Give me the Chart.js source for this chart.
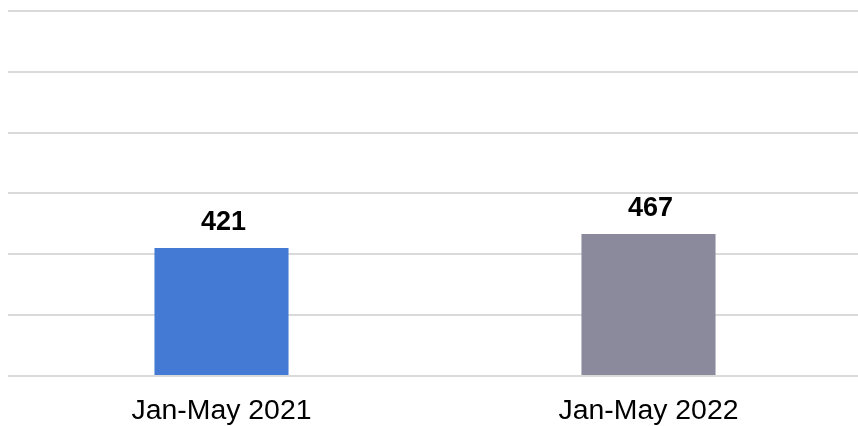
<!DOCTYPE html>
<html>
<head>
<meta charset="utf-8">
<script src="https://cdn.jsdelivr.net/npm/chart.js@4"></script>
<style>
  html, body { margin: 0; padding: 0; background: #fff; overflow: hidden; }
  #wrap { width: 862px; height: 426px; }
</style>
</head>
<body>
<div id="wrap"><canvas id="chart"></canvas></div>
<script>
const periods = ['Jan-May 2021', 'Jan-May 2022'];
const totals = [421, 467];
const barColors = ['#4479d4', '#8b8a9c'];
const yMax = 1200;
const yStep = 200;

// value labels above each bar
const valueLabels = {
    id: 'valueLabels',
    afterDatasetsDraw(chart) {
        const ctx = chart.ctx;
        const meta = chart.getDatasetMeta(0);
        ctx.save();
        ctx.font = 'bold 27px "Liberation Sans", Arial, sans-serif';
        ctx.fillStyle = '#000';
        ctx.textAlign = 'center';
        ctx.textBaseline = 'alphabetic';
        meta.data.forEach((bar, i) => {
            ctx.fillText(String(totals[i]), bar.x + 2, bar.y - 18);
        });
        ctx.restore();
    }
};

new Chart(document.getElementById('chart'), {
    type: 'bar',
    data: {
        labels: periods,
        datasets: [{
            data: totals,
            backgroundColor: barColors,
            borderWidth: 0,
            categoryPercentage: 1,
            barPercentage: 0.314
        }]
    },
    options: {
        responsive: true,
        maintainAspectRatio: false,
        animation: false,
        layout: { padding: { left: 8, right: 0, top: 11, bottom: -12 } },
        plugins: {
            legend: { display: false },
            tooltip: { enabled: false }
        },
        scales: {
            x: {
                grid: { display: false },
                border: { display: false },
                ticks: {
                    color: '#000',
                    padding: 10,
                    font: { family: '"Liberation Sans", Arial, sans-serif', size: 28.4 }
                }
            },
            y: {
                min: 0,
                max: yMax,
                ticks: { display: false, stepSize: yStep },
                border: { display: false },
                grid: { color: '#dadada', lineWidth: 2, drawTicks: false }
            }
        }
    },
    plugins: [valueLabels]
});
</script>
</body>
</html>
